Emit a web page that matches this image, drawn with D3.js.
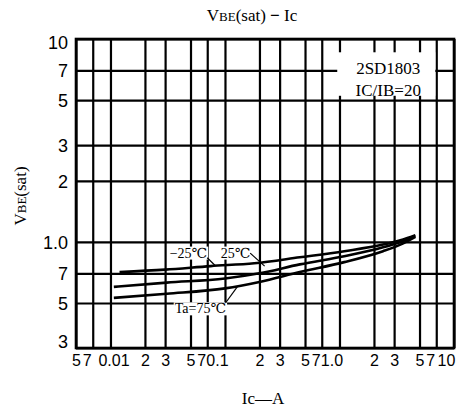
<!DOCTYPE html>
<html>
<head>
<meta charset="utf-8">
<script src="https://cdn.jsdelivr.net/npm/d3@7"></script>
<style>
  body { margin: 0; background: #fff; }
  svg { display: block; font-family: "Liberation Serif", "DejaVu Serif", serif; }
</style>
</head>
<body>
<div id="chart"></div>
<script>
// tick values and labels
const xTicks = [0.005, 0.007, 0.01, 0.02, 0.03, 0.05, 0.07, 0.1, 0.2, 0.3, 0.5, 0.7, 1, 2, 3, 5, 7, 10];
const xLabels = ["5", "7", "0.01", "2", "3", "5", "7", "0.1", "2", "3", "5", "7", "1.0", "2", "3", "5", "7", "10"];
const yTicks = [0.3, 0.5, 0.7, 1, 2, 3, 5, 7, 10];
const yLabels = ["3", "5", "7", "1.0", "2", "3", "5", "7", "10"];

// VBE(sat) curves, [Ic (A), V]
const tMinus25 = [[0.012, 0.71], [0.03, 0.73], [0.075, 0.76], [0.18, 0.785], [0.45, 0.84], [1.1, 0.90], [2.4, 0.97], [3.4, 1.02], [4.6, 1.08]];
const t25 = [[0.0107, 0.60], [0.031, 0.63], [0.1, 0.66], [0.2, 0.70], [0.45, 0.775], [1.1, 0.85], [2.4, 0.94], [3.4, 1.0], [4.6, 1.07]];
const t75 = [[0.0107, 0.53], [0.031, 0.555], [0.1, 0.59], [0.2, 0.635], [0.45, 0.71], [1.1, 0.795], [2.4, 0.90], [3.4, 0.97], [4.6, 1.06]];
const series = [tMinus25, t25, t75];

const width = 470, height = 410;
const margin = {top: 39, right: 16, bottom: 62, left: 76};
const iw = width - margin.left - margin.right;
const ih = height - margin.top - margin.bottom;

const svg = d3.select("#chart").append("svg")
    .attr("width", width)
    .attr("height", height);

const x = d3.scaleLog().domain([0.005, 10]).range([0, iw]);
const y = d3.scaleLog().domain([0.3, 10]).range([ih, 0]);

const g = svg.append("g").attr("transform", `translate(${margin.left},${margin.top})`);

// grid + x labels
const xAxis = g.append("g")
    .attr("transform", `translate(0,${ih})`)
    .call(d3.axisBottom(x).tickValues(xTicks).tickSize(-ih).tickPadding(7)
        .tickFormat((d, i) => xLabels[i]));
xAxis.select(".domain").remove();
xAxis.selectAll("line").attr("stroke", "#000").attr("stroke-width", 2.2);
xAxis.selectAll("text")
    .attr("fill", "#000")
    .style("font-size", "16px")
    .attr("dx", (d, i) => {
        const t = xLabels[i];
        if (t === "7") return -6;
        if (t === "0.1" || t === "1.0" || t === "10") return -8;
        if (t === "0.01") return 3;
        return 0;
    });

const yAxis = g.append("g")
    .call(d3.axisLeft(y).tickValues(yTicks).tickSize(-iw).tickPadding(8)
        .tickFormat((d, i) => yLabels[i]));
yAxis.select(".domain").remove();
yAxis.selectAll("line").attr("stroke", "#000").attr("stroke-width", 2.2);
yAxis.selectAll("text")
    .attr("fill", "#000")
    .style("font-size", "18px")
    .attr("dy", (d, i) => i === 0 ? "-0.05em" : (i === yTicks.length - 1 ? "0.55em" : "0.35em"));

// frame
g.append("rect")
    .attr("width", iw).attr("height", ih)
    .attr("fill", "none").attr("stroke", "#000").attr("stroke-width", 2.6);

// part-number box (white, clears the grid)
const boxG = g.append("g");
boxG.append("rect")
    .attr("x", x(0.9) + 3).attr("y", y(8.6))
    .attr("width", x(7) - x(0.9) - 4).attr("height", y(5.25) - y(8.6))
    .attr("fill", "#fff");
boxG.append("text")
    .attr("x", (x(0.9) + x(7)) / 2 + 3).attr("y", y(8.6) + 22)
    .attr("text-anchor", "middle").style("font-size", "17px")
    .text("2SD1803");
boxG.append("text")
    .attr("x", (x(0.9) + x(7)) / 2 + 3).attr("y", y(8.6) + 44)
    .attr("text-anchor", "middle").style("font-size", "17px")
    .text("IC/IB=20");

// curves
const line = d3.line()
    .x(d => x(d[0]))
    .y(d => y(d[1]))
    .curve(d3.curveMonotoneX);

g.selectAll(".curve")
    .data(series)
    .enter()
    .append("path")
    .attr("class", "curve")
    .attr("d", line)
    .attr("fill", "none")
    .attr("stroke", "#000")
    .attr("stroke-width", 2.6);

// curve labels with white background
const notes = [
    {text: "−25℃", at: [0.048, 0.885], lead: [[0.070, 0.835], [0.082, 0.765]]},
    {text: "25℃", at: [0.124, 0.885], lead: [[0.166, 0.88], [0.222, 0.76]]},
    {text: "Ta=75℃", at: [0.061, 0.47], lead: [[0.101, 0.50], [0.128, 0.60]]}
];
notes.forEach(n => {
    const ng = g.append("g");
    const t = ng.append("text")
        .attr("x", x(n.at[0])).attr("y", y(n.at[1]))
        .attr("text-anchor", "middle").attr("dy", "0.35em")
        .style("font-size", "14px")
        .text(n.text);
    const bb = t.node().getBBox();
    ng.insert("rect", "text")
        .attr("x", bb.x - 1).attr("y", bb.y + 1)
        .attr("width", bb.width + 2).attr("height", bb.height - 2)
        .attr("fill", "#fff");
    ng.append("line")
        .attr("x1", x(n.lead[0][0])).attr("y1", y(n.lead[0][1]))
        .attr("x2", x(n.lead[1][0])).attr("y2", y(n.lead[1][1]))
        .attr("stroke", "#000").attr("stroke-width", 1.2);
});

// title
const title = svg.append("text")
    .attr("x", 252).attr("y", 21)
    .attr("text-anchor", "middle")
    .style("font-size", "17px");
title.append("tspan").text("V");
title.append("tspan").style("font-size", "13px").text("BE");
title.append("tspan").text("(sat)");
title.append("tspan").style("font-weight", "bold").text(" − ");
title.append("tspan").text("Ic");

// y label
const yl = svg.append("text")
    .attr("transform", "translate(26,196) rotate(-90)")
    .attr("text-anchor", "middle")
    .style("font-size", "17px");
yl.append("tspan").text("V");
yl.append("tspan").style("font-size", "13px").text("BE");
yl.append("tspan").text("(sat)");

// x label
svg.append("text")
    .attr("x", 263).attr("y", 404)
    .attr("text-anchor", "middle")
    .style("font-size", "17px")
    .text("Ic—A");
</script>
</body>
</html>
